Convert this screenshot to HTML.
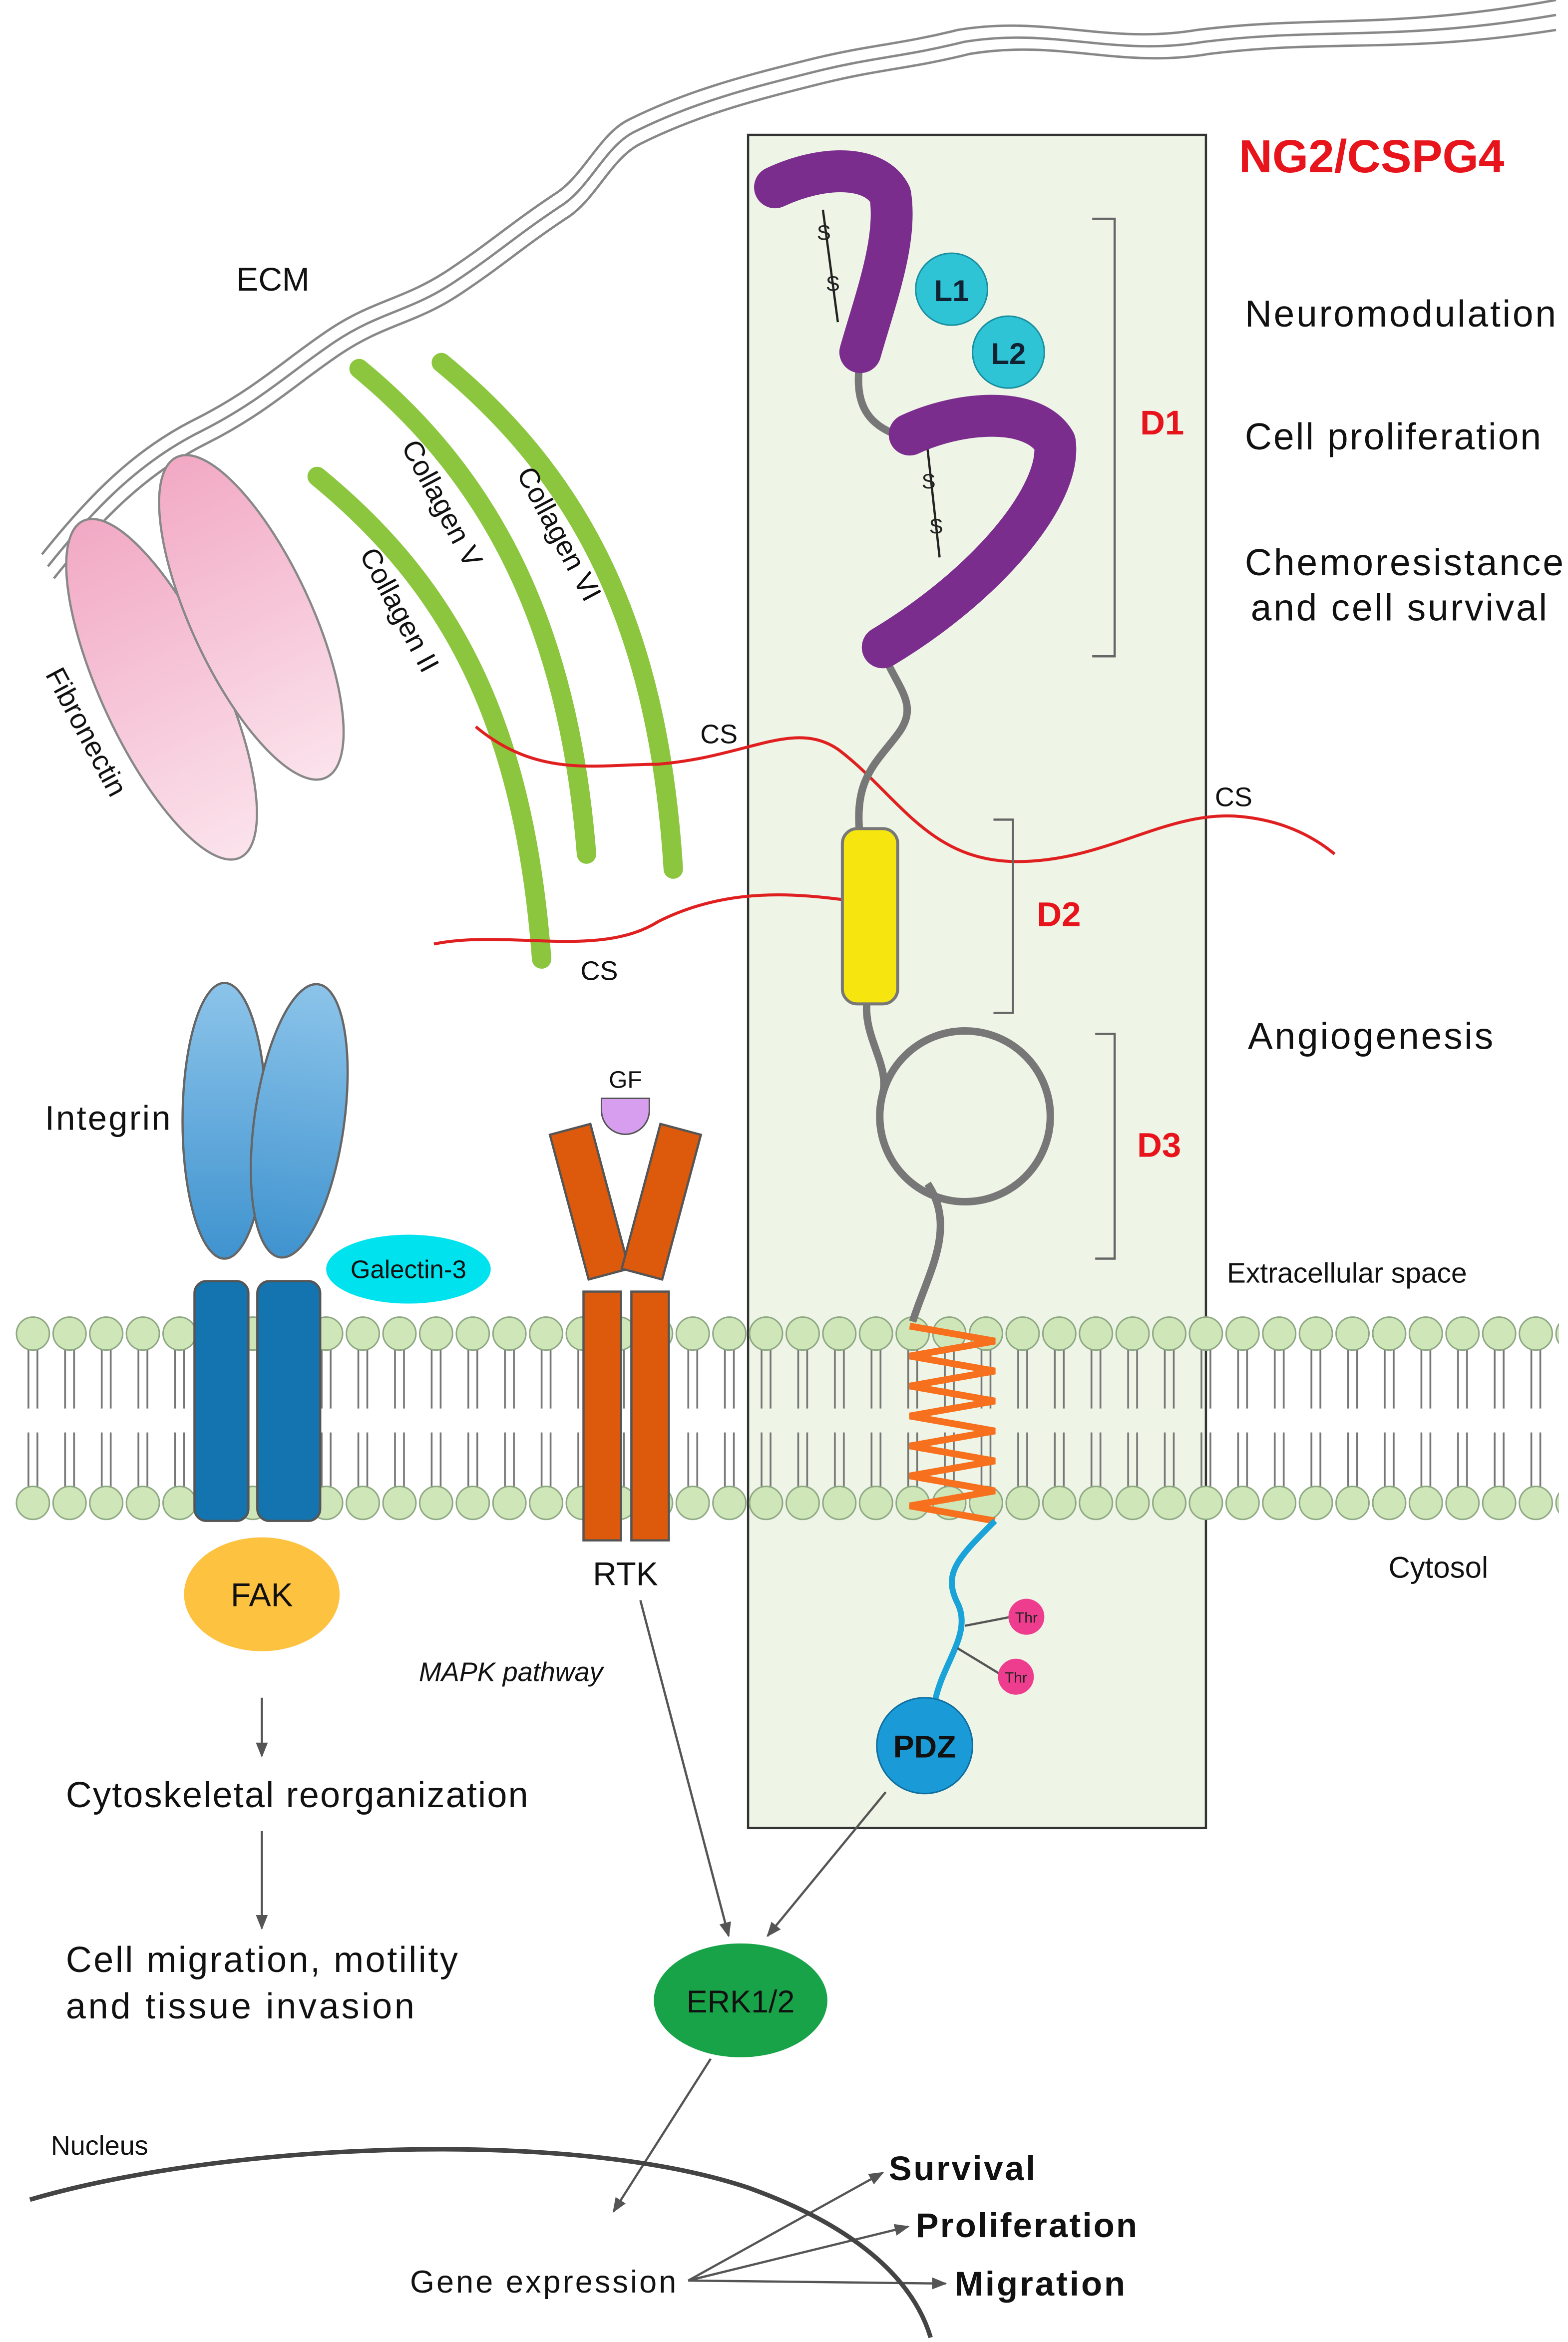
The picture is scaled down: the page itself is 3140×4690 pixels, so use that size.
<!DOCTYPE html>
<html><head><meta charset="utf-8"><style>
html,body{margin:0;padding:0;background:#fff;}
svg{display:block;}
text{font-family:"Liberation Sans",sans-serif;}
</style></head><body>
<svg width="3140" height="4690" viewBox="0 0 1048 1563" preserveAspectRatio="none" xmlns="http://www.w3.org/2000/svg">
<defs>
<pattern id="mem" x="10" y="878" width="24.5" height="140" patternUnits="userSpaceOnUse">
<line x1="9" y1="22" x2="9" y2="62" stroke="#777" stroke-width="1.2"/>
<line x1="15" y1="22" x2="15" y2="62" stroke="#777" stroke-width="1.2"/>
<line x1="9" y1="78" x2="9" y2="116" stroke="#777" stroke-width="1.2"/>
<line x1="15" y1="78" x2="15" y2="116" stroke="#777" stroke-width="1.2"/>
<circle cx="12" cy="12" r="11" fill="#cfe6b8" stroke="#8da882" stroke-width="1"/>
<circle cx="12" cy="125" r="11" fill="#cfe6b8" stroke="#8da882" stroke-width="1"/>
</pattern>
<linearGradient id="pink" x1="0" y1="0" x2="0" y2="1"><stop offset="0" stop-color="#f2a9c4"/><stop offset="1" stop-color="#fbe3ec"/></linearGradient>
<linearGradient id="lb" x1="0" y1="0" x2="0" y2="1"><stop offset="0" stop-color="#8cc4ea"/><stop offset="1" stop-color="#3f93cf"/></linearGradient>
<marker id="ar" markerWidth="10" markerHeight="10" refX="9" refY="5" orient="auto" markerUnits="userSpaceOnUse"><path d="M0,1 L10,5 L0,9 z" fill="#555"/></marker>
</defs>

<g fill="none" stroke="#888" stroke-width="1.6">
<path d="M28,370 C60,330 90,300 130,280 C170,260 190,240 220,220 C250,200 270,200 300,180 C330,160 340,150 370,130 C390,118 400,90 420,80 C460,60 500,50 540,40 C580,30 600,30 640,20 C700,10 740,30 800,20 C880,10 930,20 1040,0"/>
<path d="M32,378 C64,338 94,308 134,288 C174,268 194,248 224,228 C254,208 274,208 304,188 C334,168 344,158 374,138 C394,126 404,98 424,88 C464,68 504,58 544,48 C584,38 604,38 644,28 C704,18 744,38 804,28 C884,18 934,28 1040,10"/>
<path d="M36,386 C68,346 98,316 138,296 C178,276 198,256 228,236 C258,216 278,216 308,196 C338,176 348,166 378,146 C398,134 408,106 428,96 C468,76 508,66 548,56 C588,46 608,46 648,36 C708,26 748,46 808,36 C888,26 938,36 1040,20"/>
</g>
<text x="158" y="194" font-size="22" fill="#111">ECM</text>

<ellipse cx="108" cy="460" rx="40" ry="124" transform="rotate(-25 108 460)" fill="url(#pink)" stroke="#888" stroke-width="1.5"/>
<ellipse cx="168" cy="412" rx="40" ry="118" transform="rotate(-25 168 412)" fill="url(#pink)" stroke="#888" stroke-width="1.5"/>
<text x="30" y="450" font-size="19" transform="rotate(62 30 450)" fill="#111">Fibronectin</text>

<rect x="500" y="90" width="306" height="1130" fill="#eef4e6" stroke="#333" stroke-width="1.5"/>

<g fill="none" stroke="#8cc63f" stroke-width="13" stroke-linecap="round">
<path d="M212,318 C300,390 350,480 362,640"/>
<path d="M240,246 C330,320 380,420 392,570"/>
<path d="M295,242 C390,320 440,420 450,580"/>
</g>
<text x="240" y="370" font-size="19" transform="rotate(62 240 370)" fill="#111">Collagen II</text>
<text x="268" y="298" font-size="19" transform="rotate(62 268 298)" fill="#111">Collagen V</text>
<text x="345" y="316" font-size="19" transform="rotate(62 345 316)" fill="#111">Collagen VI</text>

<g fill="none" stroke="#e02020" stroke-width="2">
<path d="M318,485 C360,520 400,510 440,510 C500,505 530,480 560,500 C600,530 620,575 680,575 C740,575 780,540 830,545 C860,548 880,560 892,570"/>
<path d="M290,630 C340,620 400,640 440,615 C480,595 520,595 560,600 C580,603 590,590 600,578"/>
</g>
<text x="468" y="496" font-size="18" fill="#111">CS</text>
<text x="812" y="538" font-size="18" fill="#111">CS</text>
<text x="388" y="654" font-size="18" fill="#111">CS</text>

<text x="828" y="115" font-size="31" font-weight="bold" fill="#e8141c">NG2/CSPG4</text>
<g font-size="25" fill="#111">
<text x="832" y="218" textLength="208">Neuromodulation</text>
<text x="832" y="300" textLength="198">Cell proliferation</text>
<text x="832" y="384" textLength="213">Chemoresistance</text>
<text x="836" y="414" textLength="198">and cell survival</text>
<text x="834" y="700" textLength="164">Angiogenesis</text>
</g>
<text x="820" y="856" font-size="19" fill="#111">Extracellular space</text>
<text x="928" y="1053" font-size="20" fill="#111">Cytosol</text>

<g fill="none" stroke="#666" stroke-width="1.5">
<path d="M730,146 H745 V438 H730"/>
<path d="M664,547 H677 V676 H664"/>
<path d="M732,690 H745 V840 H732"/>
</g>
<g font-size="23" font-weight="bold" fill="#e8141c">
<text x="762" y="290">D1</text>
<text x="693" y="618">D2</text>
<text x="760" y="772">D3</text>
</g>

<rect x="10" y="878" width="1032" height="140" fill="url(#mem)"/>

<g fill="none" stroke="#777" stroke-width="5">
<path d="M575,240 C570,270 580,285 605,292"/>
<path d="M590,435 C600,460 615,470 600,490 C585,510 570,520 575,560"/>
<path d="M580,665 C575,690 595,710 590,730"/>
<path d="M620,790 C640,820 620,850 610,882"/>
</g>
<circle cx="645" cy="745" r="57" fill="none" stroke="#777" stroke-width="5"/>
<rect x="563" y="553" width="37" height="117" rx="10" fill="#f6e50e" stroke="#777" stroke-width="2"/>

<g fill="none" stroke="#7b2d8e" stroke-width="28" stroke-linecap="round" stroke-linejoin="round">
<path d="M518,125 C550,110 585,110 595,130 C600,160 585,200 575,235"/>
<path d="M608,290 C640,275 690,270 705,295 C710,330 660,390 590,432"/>
</g>
<g stroke="#222" stroke-width="1.5" fill="none">
<path d="M550,140 L560,215"/>
<path d="M620,300 L628,372"/>
</g>
<text x="546" y="160" font-size="14" fill="#222">S</text>
<text x="552" y="194" font-size="14" fill="#222">S</text>
<text x="616" y="326" font-size="14" fill="#222">S</text>
<text x="621" y="356" font-size="14" fill="#222">S</text>
<circle cx="636" cy="193" r="24" fill="#2ec4d6" stroke="#1a8fa0" stroke-width="1"/>
<circle cx="674" cy="235" r="24" fill="#2ec4d6" stroke="#1a8fa0" stroke-width="1"/>
<text x="636" y="201" font-size="20" font-weight="bold" text-anchor="middle" fill="#123">L1</text>
<text x="674" y="243" font-size="20" font-weight="bold" text-anchor="middle" fill="#123">L2</text>

<path d="M608,885 L665,895 L608,905 L665,915 L608,925 L665,935 L608,945 L665,955 L608,965 L665,975 L608,985 L665,995 L608,1005 L665,1015" fill="none" stroke="#f7701e" stroke-width="4.5"/>
<path d="M665,1015 C640,1040 630,1050 640,1070 C650,1090 630,1110 625,1135" fill="none" stroke="#1aa3d9" stroke-width="4"/>
<line x1="645" y1="1085" x2="676" y2="1079" stroke="#555" stroke-width="1.5"/>
<line x1="640" y1="1100" x2="668" y2="1117" stroke="#555" stroke-width="1.5"/>
<circle cx="686" cy="1079" r="12" fill="#ee3d8e"/>
<circle cx="679" cy="1119" r="12" fill="#ee3d8e"/>
<text x="686" y="1083" font-size="10" text-anchor="middle" fill="#222">Thr</text>
<text x="679" y="1123" font-size="10" text-anchor="middle" fill="#222">Thr</text>
<circle cx="618" cy="1165" r="32" fill="#1a9ad6" stroke="#0e6fa0" stroke-width="1"/>
<text x="618" y="1173" font-size="21" font-weight="bold" text-anchor="middle" fill="#111">PDZ</text>

<ellipse cx="150" cy="748" rx="28" ry="92" fill="url(#lb)" stroke="#666" stroke-width="1.5"/>
<ellipse cx="200" cy="748" rx="30" ry="92" transform="rotate(8 200 748)" fill="url(#lb)" stroke="#666" stroke-width="1.5"/>
<rect x="130" y="855" width="36" height="160" rx="8" fill="#1474b0" stroke="#555" stroke-width="1.5"/>
<rect x="172" y="855" width="42" height="160" rx="8" fill="#1474b0" stroke="#555" stroke-width="1.5"/>
<text x="30" y="754" font-size="23" fill="#111" textLength="84">Integrin</text>
<ellipse cx="273" cy="847" rx="55" ry="23" fill="#00e3ee"/>
<text x="273" y="853" font-size="17" text-anchor="middle" fill="#111">Galectin-3</text>

<path d="M402,733 h32 v8 a16,16 0 0 1 -32,0 z" fill="#d79ef0" stroke="#555" stroke-width="1"/>
<text x="418" y="726" font-size="16" text-anchor="middle" fill="#111">GF</text>
<rect x="380" y="752" width="28" height="100" transform="rotate(-15 394 802)" fill="#dd5a0c" stroke="#555" stroke-width="1.5"/>
<rect x="428" y="752" width="28" height="100" transform="rotate(15 442 802)" fill="#dd5a0c" stroke="#555" stroke-width="1.5"/>
<rect x="390" y="862" width="25" height="166" fill="#dd5a0c" stroke="#555" stroke-width="1.5"/>
<rect x="422" y="862" width="25" height="166" fill="#dd5a0c" stroke="#555" stroke-width="1.5"/>
<text x="418" y="1058" font-size="22" text-anchor="middle" fill="#111">RTK</text>
<text x="280" y="1122" font-size="18" font-style="italic" fill="#111">MAPK pathway</text>

<ellipse cx="175" cy="1064" rx="52" ry="38" fill="#fcc240"/>
<text x="175" y="1072" font-size="22" text-anchor="middle" fill="#111">FAK</text>
<g stroke="#555" stroke-width="1.5" fill="none" marker-end="url(#ar)">
<line x1="175" y1="1133" x2="175" y2="1172"/>
<line x1="175" y1="1222" x2="175" y2="1287"/>
<line x1="428" y1="1068" x2="487" y2="1292"/>
<line x1="592" y1="1196" x2="513" y2="1292"/>
<line x1="475" y1="1374" x2="410" y2="1476"/>
<line x1="460" y1="1522" x2="590" y2="1450"/>
<line x1="460" y1="1522" x2="607" y2="1486"/>
<line x1="460" y1="1522" x2="632" y2="1524"/>
</g>
<g font-size="24" fill="#111">
<text x="44" y="1206" textLength="309">Cytoskeletal reorganization</text>
<text x="44" y="1316" textLength="262">Cell migration, motility</text>
<text x="44" y="1347" textLength="233">and tissue invasion</text>
</g>

<ellipse cx="495" cy="1335" rx="58" ry="38" fill="#18a348"/>
<text x="495" y="1343" font-size="21" text-anchor="middle" fill="#111">ERK1/2</text>

<path d="M20,1468 C150,1430 380,1420 500,1460 C570,1485 610,1520 622,1560" fill="none" stroke="#444" stroke-width="3"/>
<text x="34" y="1438" font-size="18" fill="#111">Nucleus</text>
<text x="274" y="1530" font-size="21" fill="#111" textLength="178">Gene expression</text>
<g font-size="23" font-weight="bold" fill="#111">
<text x="594" y="1455" textLength="98">Survival</text>
<text x="612" y="1493" textLength="148">Proliferation</text>
<text x="638" y="1532" textLength="114">Migration</text>
</g>
</svg>
</body></html>
